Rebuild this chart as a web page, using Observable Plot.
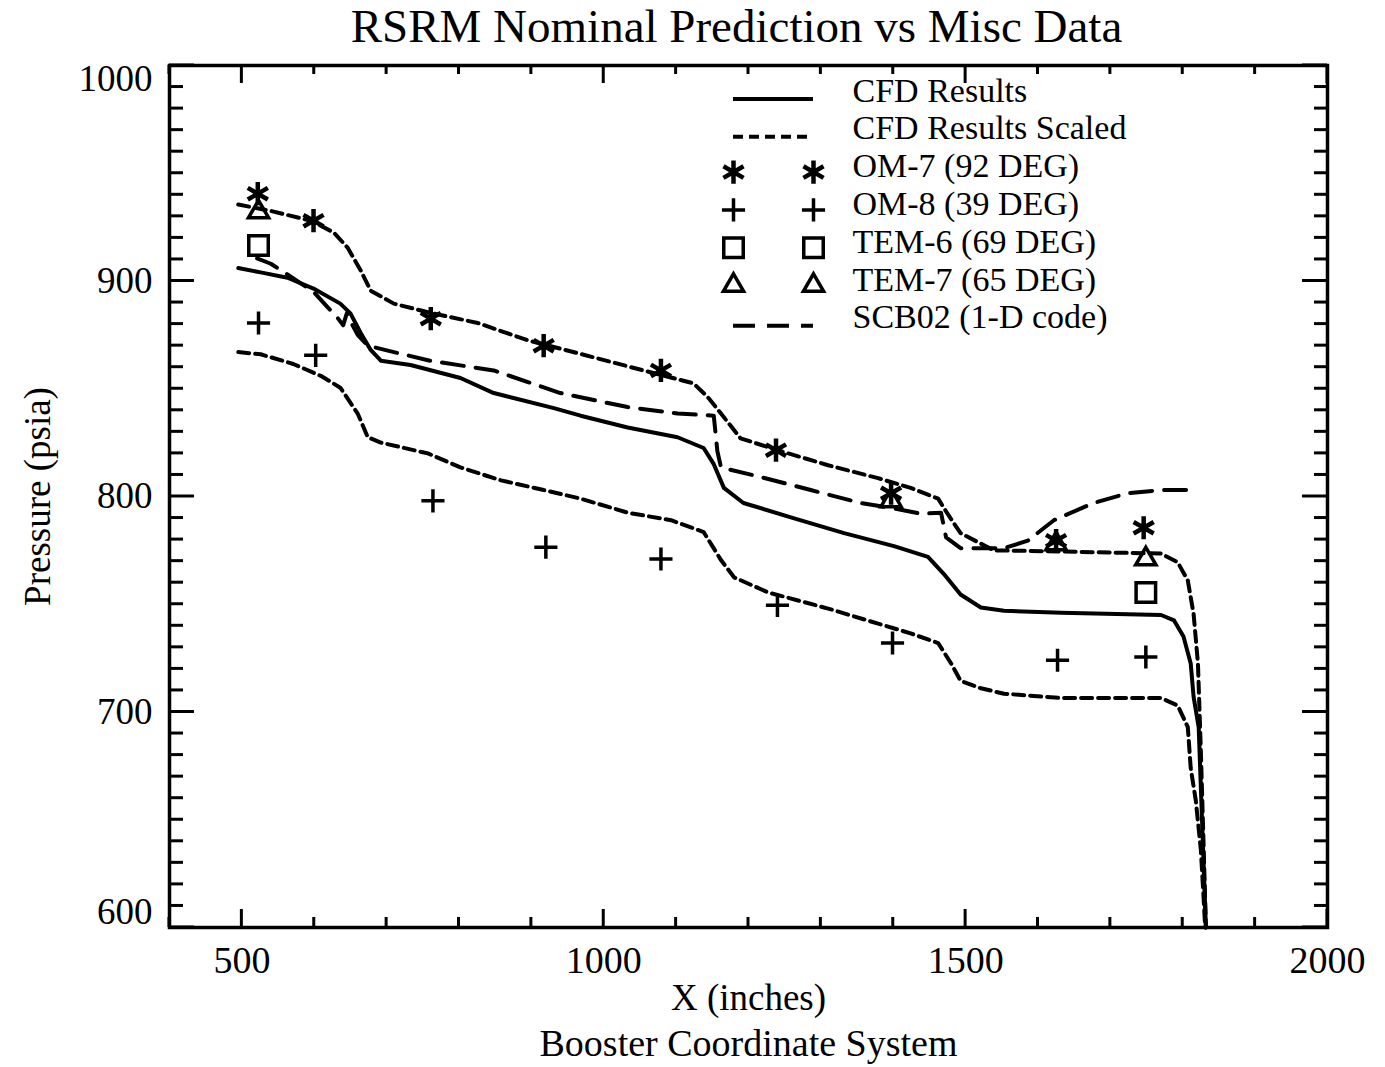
<!DOCTYPE html>
<html>
<head>
<meta charset="utf-8">
<script src="https://cdn.jsdelivr.net/npm/d3@7"></script>
<script src="https://cdn.jsdelivr.net/npm/@observablehq/plot@0.6"></script>
<style>
  body { margin: 0; background: #fff; }
  svg { display: block; }
</style>
</head>
<body>
<div id="chart"></div>
<script>
// ---------- data ----------
const cfdX = [495, 526, 563, 599, 636, 650, 664, 678, 692, 733, 802, 848, 931, 968, 1033, 1102, 1138, 1152, 1166, 1193, 1262, 1332, 1401, 1448, 1470, 1493, 1521, 1553, 1632, 1770, 1788, 1801, 1811, 1815, 1822, 1832];
const cfdY = [906, 904, 901.5, 896.5, 889.5, 885, 876, 868, 863, 861, 855, 848, 841, 837.5, 832, 827.5, 822.5, 815, 804, 797, 790, 783, 777, 772, 764, 754.5, 748.5, 747, 746, 745, 742.5, 735, 722.5, 707, 693, 600];

const scaledHiX = [495, 540, 595, 627, 646, 664, 678, 710, 757, 826, 895, 964, 1055, 1124, 1144, 1162, 1189, 1240, 1310, 1379, 1424, 1462, 1475, 1493, 1539, 1632, 1770, 1793, 1807, 1815, 1821, 1825, 1829, 1832];
const scaledHiY = [935.5, 932.5, 928, 922.5, 915.5, 905, 895.5, 889.5, 885.5, 880.5, 872.5, 866.5, 858.5, 852.5, 846, 838.5, 827, 821.5, 814.5, 808.5, 804, 799, 792, 783, 775, 774.5, 773.5, 769.5, 761, 745.5, 722.5, 682, 636, 600];

const scaledLoX = [495, 526, 571, 609, 636, 660, 674, 692, 757, 802, 858, 917, 968, 1033, 1093, 1138, 1162, 1180, 1227, 1310, 1379, 1424, 1462, 1480, 1493, 1521, 1553, 1632, 1770, 1793, 1807, 1811, 1818, 1825, 1829, 1831];
const scaledLoY = [867, 866, 861.5, 856, 850.5, 838.5, 827.5, 825, 820, 813.5, 807.5, 803, 799, 792.5, 789, 783.5, 770.5, 762.5, 755.5, 748, 741, 736.5, 732, 722.5, 714.5, 711, 708.5, 706.5, 706.5, 703, 693, 674, 659, 636, 612.5, 600];

const scbX = [521, 540, 563, 599, 618, 632, 640, 645, 652, 660, 674, 710, 760, 848, 940, 1033, 1102, 1152, 1157, 1162, 1217, 1286, 1355, 1401, 1438, 1466, 1473, 1493, 1553, 1586, 1622, 1677, 1724, 1770, 1807];
const scbY = [910.5, 908, 903, 895, 888, 883, 879.5, 885, 880, 875, 870, 867, 863, 858.5, 848, 841.5, 838.5, 837.5, 821, 813.5, 809, 803, 797, 794.5, 792, 792.5, 781, 776, 776, 779.5, 789, 797, 801.5, 803, 803];

const om7X = [522, 599, 761, 917, 1079, 1238, 1397, 1625, 1746];
const om7Y = [940.5, 928, 882.5, 870, 858.5, 821.5, 801.5, 779.5, 785.5];
const om8X = [523, 602, 764, 920, 1079, 1240, 1399, 1627, 1749];
const om8Y = [880.5, 865.5, 798, 776.5, 771, 749.5, 732, 724, 725.5];
const tem6X = [523, 1749];
const tem6Y = [916.5, 755.5];
const tem7X = [523, 1397, 1625, 1749];
const tem7Y = [932, 798, 778, 771];

const xTickLabels = [500, 1000, 1500, 2000];
const yTickLabels = [600, 700, 800, 900, 1000];
const legendLabels = ["CFD Results", "CFD Results Scaled", "OM-7 (92 DEG)", "OM-8 (39 DEG)", "TEM-6 (69 DEG)", "TEM-7 (65 DEG)", "SCB02 (1-D code)"];
const legendKinds  = ["solid", "short", "asterisk", "plus", "square", "triangle", "long"];

// ---------- tables ----------
const pts = (xs, ys) => xs.map((x, i) => ({x, y: ys[i]}));
const cfd = pts(cfdX, cfdY);
const scaled = [
  ...pts(scaledHiX, scaledHiY).map(d => ({...d, s: "hi"})),
  ...pts(scaledLoX, scaledLoY).map(d => ({...d, s: "lo"}))
];
const scb = pts(scbX, scbY);
const om7 = pts(om7X, om7Y), om8 = pts(om8X, om8Y), tem6 = pts(tem6X, tem6Y), tem7 = pts(tem7X, tem7Y);

const FONT = "'Liberation Serif', 'Times New Roman', serif";
const SHORT = "11,6", LONG = "22,12", LW = 4;
const markerStyle = {
  asterisk: {symbol: "asterisk", r: 11, strokeWidth: 4.5},
  plus:     {symbol: "plus", r: 7.5, strokeWidth: 3.5},
  square:   {symbol: "square", r: 11, strokeWidth: 3.5},
  triangle: {symbol: "triangle", r: 7.5, strokeWidth: 3.5}
};

// ticks on all four sides, drawn inward through the plot scales
const xMinor = d3.range(400, 2001, 100);
const yMinor = d3.range(600, 1001, 10);
function frameTicks(index, scales, values, dims) {
  const {x, y} = scales;
  const L = dims.marginLeft, R = dims.width - dims.marginRight;
  const T = dims.marginTop, B = dims.height - dims.marginBottom;
  const g = d3.create("svg:g").attr("stroke", "black").attr("stroke-width", 3).attr("fill", "none");
  for (const v of xMinor) {
    const px = x(v), major = v % 500 === 0;
    g.append("line").attr("x1", px).attr("x2", px).attr("y1", B).attr("y2", B - (major ? 18 : 10));
    g.append("line").attr("x1", px).attr("x2", px).attr("y1", T).attr("y2", T + (major ? 18 : 9));
  }
  for (const v of yMinor) {
    const py = y(v), major = v % 100 === 0;
    g.append("line").attr("y1", py).attr("y2", py).attr("x1", L).attr("x2", L + (major ? 25 : 14));
    g.append("line").attr("y1", py).attr("y2", py).attr("x1", R).attr("x2", R - (major ? 25 : 13));
  }
  return g.node();
}

// legend geometry (pixel offsets from the frame's top-left corner)
const LEG_X1 = 564, LEG_X2 = 644, LEG_TEXT = 683, LEG_Y0 = 36, LEG_DY = 37.8, LEG_FS = 34;
function legendLines(index, scales, values, dims) {
  const g = d3.create("svg:g").attr("stroke", "black").attr("stroke-width", LW).attr("fill", "none");
  legendKinds.forEach((k, i) => {
    if (!["solid", "short", "long"].includes(k)) return;
    const yy = dims.marginTop + LEG_Y0 + i * LEG_DY - 2;
    const ln = g.append("line")
      .attr("x1", dims.marginLeft + LEG_X1).attr("x2", dims.marginLeft + LEG_X2)
      .attr("y1", yy).attr("y2", yy);
    if (k === "short") ln.attr("stroke-dasharray", "10,6");
    if (k === "long") ln.attr("stroke-dasharray", "22,12");
  });
  return g.node();
}

const legendMarks = [];
legendKinds.forEach((k, i) => {
  const dy = LEG_Y0 + i * LEG_DY;
  legendMarks.push(Plot.text([legendLabels[i]], {
    text: d => d, frameAnchor: "top-left", dx: LEG_TEXT, dy,
    textAnchor: "start", lineAnchor: "bottom", fontSize: LEG_FS, fill: "black"
  }));
  if (markerStyle[k]) {
    for (const dx of [LEG_X1, LEG_X2]) {
      legendMarks.push(Plot.dot([0], {
        frameAnchor: "top-left", dx, dy: dy - 5, stroke: "black", fill: "none", ...markerStyle[k]
      }));
    }
  }
});

const chart = Plot.plot({
  width: 1385,
  height: 1067,
  marginLeft: 169,
  marginRight: 58,
  marginTop: 65,
  marginBottom: 140,
  style: {fontFamily: FONT, background: "white", color: "black"},
  x: {domain: [400, 2000], axis: null},
  y: {domain: [600, 1000], axis: null},
  marks: [
    Plot.line(scaled, {x: "x", y: "y", z: "s", stroke: "black", strokeWidth: LW, strokeDasharray: SHORT, strokeLinejoin: "round"}),
    Plot.line(scb, {x: "x", y: "y", stroke: "black", strokeWidth: LW, strokeDasharray: LONG, strokeLinejoin: "round"}),
    Plot.line(cfd, {x: "x", y: "y", stroke: "black", strokeWidth: LW, strokeLinejoin: "round"}),
    Plot.dot(tem7, {x: "x", y: "y", stroke: "black", fill: "none", ...markerStyle.triangle}),
    Plot.dot(tem6, {x: "x", y: "y", stroke: "black", fill: "none", ...markerStyle.square}),
    Plot.dot(om8, {x: "x", y: "y", stroke: "black", fill: "none", ...markerStyle.plus}),
    Plot.dot(om7, {x: "x", y: "y", stroke: "black", fill: "none", ...markerStyle.asterisk}),
    Plot.frame({stroke: "black", strokeWidth: 3.5}),
    frameTicks,
    // tick labels
    Plot.text(xTickLabels, {x: d => d, text: d => String(d), frameAnchor: "bottom", lineAnchor: "middle", dy: 33, fontSize: 38, fill: "black"}),
    Plot.text(yTickLabels.filter(v => v > 600 && v < 1000), {y: d => d, text: d => String(d), frameAnchor: "left", dx: -17, textAnchor: "end", fontSize: 37, fill: "black"}),
    Plot.text(yTickLabels.filter(v => v === 1000), {y: d => d, text: d => String(d), frameAnchor: "left", dx: -17, dy: 14, textAnchor: "end", fontSize: 37, fill: "black"}),
    Plot.text(yTickLabels.filter(v => v === 600), {y: d => d, text: d => String(d), frameAnchor: "left", dx: -17, dy: -15, textAnchor: "end", fontSize: 37, fill: "black"}),
    // titles
    Plot.text(["RSRM Nominal Prediction vs Misc Data"], {text: d => d, frameAnchor: "top", lineAnchor: "middle", dx: -12, dy: -39, fontSize: 47, fill: "black"}),
    Plot.text(["X (inches)"], {text: d => d, frameAnchor: "bottom", lineAnchor: "middle", dy: 71, fontSize: 37, fill: "black"}),
    Plot.text(["Booster Coordinate System"], {text: d => d, frameAnchor: "bottom", lineAnchor: "middle", dy: 116, fontSize: 38, fill: "black"}),
    Plot.text(["Pressure (psia)"], {text: d => d, frameAnchor: "left", textAnchor: "middle", lineAnchor: "middle", dx: -131, rotate: -90, fontSize: 37, fill: "black"}),
    // legend
    legendLines,
    ...legendMarks
  ]
});
document.getElementById("chart").appendChild(chart);
</script>
</body>
</html>
